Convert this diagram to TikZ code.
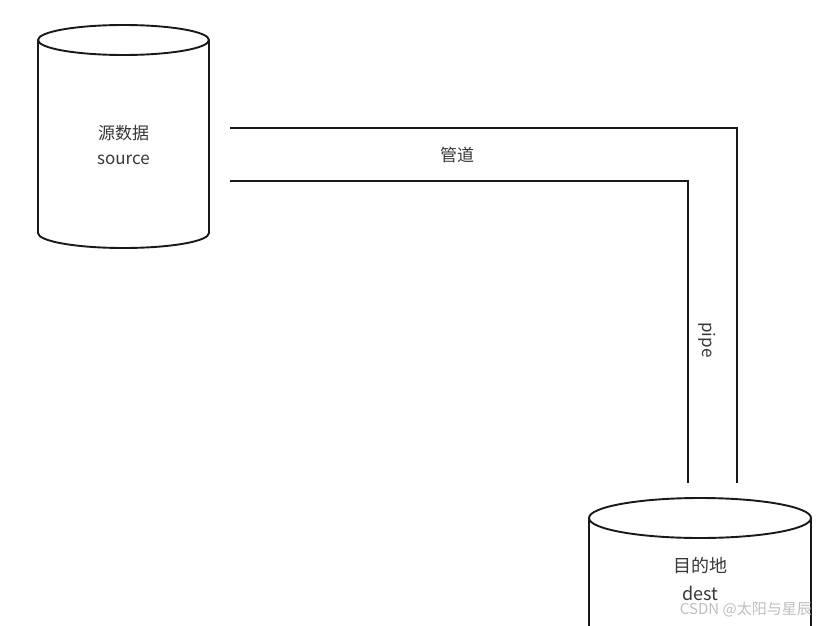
\documentclass[tikz,border=0pt]{standalone}
\usepackage{fontspec}
\setmainfont{Noto Sans CJK SC}
\usetikzlibrary{positioning}
\definecolor{linecol}{RGB}{25,25,25}
\definecolor{txtcol}{RGB}{55,55,55}
\definecolor{markcol}{RGB}{190,190,190}
\begin{document}
\begin{tikzpicture}[x=1pt,y=-1pt,
  cyl/.style={draw=linecol, line width=1.9pt},
  pipeline/.style={draw=linecol, line width=2pt},
  lbl/.style={font=\fontsize{17}{20}\selectfont, text=txtcol, inner sep=1pt}]
\useasboundingbox (0,0) rectangle (822,626);
\clip (0,0) rectangle (822,626);

% ── Source cylinder ──────────────────────────────────────────────────────────
\draw[cyl] (123.5,40) ellipse [x radius=85.5pt, y radius=15pt];
\draw[cyl] (38,40) -- (38,233)
     arc[start angle=180, end angle=360, x radius=85.5pt, y radius=15pt]
     -- (209,40);
\node[lbl] (srcname) at (123.5,133) {源数据};
\node[lbl] (srcword) at (123.5,160) {source};

% ── Pipe ─────────────────────────────────────────────────────────────────────
\coordinate (outerstart)  at (230,128);
\coordinate (outercorner) at (737,128);
\coordinate (outerend)    at (737,483);
\coordinate (innerstart)  at (230,181);
\coordinate (innercorner) at (688,181);
\coordinate (innerend)    at (688,483);
\draw[pipeline] (outerstart) -- (outercorner) -- (outerend);
\draw[pipeline] (innerstart) -- (innercorner) -- (innerend);
\node[lbl] (pipecn) at (457,155) {管道};
\node[lbl, rotate=-90] (pipeword) at (707,340) {pipe};

% ── Destination cylinder ─────────────────────────────────────────────────────
\draw[cyl] (700,518) ellipse [x radius=111pt, y radius=20pt];
\draw[cyl] (589,518) -- (589,640);
\draw[cyl] (811,518) -- (811,640);
\node[lbl, font=\fontsize{18}{21}\selectfont] (destname) at (700,566) {目的地};
\node[lbl, font=\fontsize{18}{21}\selectfont] (destword) at (700,593) {dest};

% watermark
\node[font=\fontsize{15}{17}\selectfont, text=markcol, anchor=east, inner sep=0pt]
     (mark) at (812,609) {CSDN @太阳与星辰};

\end{tikzpicture}
\end{document}
